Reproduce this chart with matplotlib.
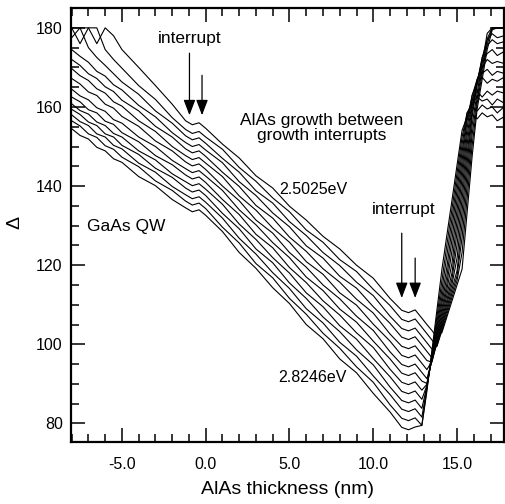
import matplotlib
matplotlib.use("Agg")
import matplotlib.pyplot as plt
from matplotlib.ticker import MultipleLocator, FormatStrFormatter

plt.rcParams['font.family'] = ['Liberation Sans', 'DejaVu Sans']
plt.rcParams['axes.unicode_minus'] = False

# AlAs thickness (nm) shared by all traces
thickness = [-8, -7.5, -7, -6.5, -6, -5.5, -5, -4, -3, -2, -1.2, -0.8, -0.4, 0,
             1, 2, 3, 4, 5, 6, 7, 8, 9, 10, 11, 11.7, 12.1, 12.5,
             12.9, 13.2, 13.5, 13.8, 14.1, 14.4, 14.7, 15.0, 15.3, 15.6, 15.9,
             16.2, 16.5, 16.8, 17.1, 17.4, 17.8]

# Delta traces, 2.5025 eV (top) down to 2.8246 eV (bottom)
d01 = [180, 180, 180, 176, 180, 178, 174.5, 170, 165.4, 160.7, 156.5, 155.5, 156.0, 154.6,
       150.6, 147.1, 142.6, 139.5, 134.9, 131.4, 127.3, 124.1, 120.0, 116.7, 111.6, 108.6, 108.0, 108.7,
       106.6, 105.0, 103.5, 101.8, 103.0, 107.0, 111.0, 115.0, 119.0, 133.3, 147.5, 159.5, 167.0, 174.5, 179.5, 180, 180]
d02 = [180, 176, 180, 180, 174.5, 172, 169.8, 165.4, 161.9, 157.3, 154.3, 153.3, 153.8, 152.4,
       149.3, 144.7, 141.2, 137.0, 133.5, 128.9, 125.8, 121.4, 118.4, 113.9, 109.8, 106.3, 105.7, 106.4,
       104.3, 102.7, 101.1, 99.5, 103.5, 107.7, 111.9, 116.1, 123.2, 136.8, 150.3, 160.9, 168.4, 175.9, 180, 180, 180]
d03 = [177.5, 180, 175, 172.5, 170.5, 168.4, 166.3, 163.2, 159.0, 155.9, 152.7, 151.7, 152.2, 150.8,
       147.0, 143.5, 138.8, 135.7, 131.0, 127.5, 123.2, 119.9, 115.7, 112.3, 107.1, 104.0, 103.4, 104.1,
       102.0, 100.4, 98.8, 99.6, 104.1, 108.5, 112.9, 117.3, 127.0, 140.0, 153.0, 162.2, 169.7, 177.2, 180, 180, 180]
d04 = [174.5, 172.8, 171.3, 169.0, 167.8, 165.6, 164.3, 160.4, 157.5, 153.5, 151.0, 150.0, 150.5, 149.1,
       145.9, 141.1, 137.6, 133.2, 129.7, 124.9, 121.8, 117.2, 114.2, 109.5, 105.3, 101.8, 101.2, 101.9,
       99.8, 98.2, 96.6, 100.0, 104.7, 109.3, 114.0, 118.6, 130.5, 143.0, 155.4, 163.6, 171.1, 178.6, 180, 180, 180]
d05 = [172.0, 170.5, 168.4, 167.2, 165.1, 163.9, 161.7, 159.0, 155.1, 152.4, 149.4, 148.4, 148.9, 147.5,
       143.5, 139.9, 135.1, 131.9, 127.1, 123.5, 119.1, 115.7, 111.4, 107.9, 102.6, 99.5, 98.9, 99.6,
       97.5, 95.9, 95.5, 100.4, 105.4, 110.3, 115.2, 121.8, 133.7, 145.7, 157.6, 165.5, 172.4, 177.0, 178.5, 177.5, 178.0]
d06 = [169.7, 167.9, 166.7, 164.6, 163.5, 161.3, 160.2, 156.5, 153.8, 150.0, 147.7, 146.7, 147.2, 145.8,
       142.4, 137.5, 133.9, 129.4, 125.8, 120.9, 117.7, 113.0, 109.9, 105.1, 100.8, 97.2, 96.6, 97.3,
       95.2, 93.6, 95.7, 100.9, 106.1, 111.3, 116.6, 125.2, 136.7, 148.2, 158.7, 166.2, 172.5, 175.5, 177.0, 176.0, 176.5]
d07 = [167.2, 165.8, 163.8, 162.9, 160.7, 159.7, 157.6, 155.1, 151.4, 148.9, 146.1, 145.1, 145.6, 144.2,
       140.0, 136.3, 131.4, 128.1, 123.2, 119.5, 115.0, 111.5, 107.1, 103.5, 98.1, 94.9, 94.3, 95.0,
       92.9, 91.3, 95.8, 101.4, 107.0, 112.6, 118.1, 128.4, 139.4, 150.5, 160.1, 166.5, 171.5, 173.5, 174.5, 173.0, 174.0]
d08 = [164.5, 162.8, 161.8, 159.8, 158.9, 156.8, 155.9, 152.4, 150.0, 146.5, 144.4, 143.4, 143.9, 142.5,
       138.9, 134.0, 130.2, 125.7, 121.9, 117.0, 113.6, 108.9, 105.6, 100.8, 96.3, 92.7, 92.1, 92.8,
       90.7, 90.1, 96.1, 102.0, 108.0, 114.0, 120.6, 131.3, 142.0, 152.6, 161.4, 167.0, 170.0, 172.0, 171.0, 171.5, 171.0]
d09 = [162.5, 161.3, 159.3, 158.5, 156.4, 155.6, 153.5, 151.2, 147.7, 145.4, 142.8, 141.8, 142.3, 140.9,
       136.6, 132.8, 127.8, 124.4, 119.4, 115.6, 111.0, 107.4, 102.9, 99.2, 93.7, 90.4, 89.8, 90.5,
       88.4, 89.9, 96.3, 102.7, 109.1, 115.5, 123.7, 134.0, 144.3, 154.6, 162.8, 167.0, 168.5, 169.5, 168.0, 169.0, 168.5]
d10 = [160.8, 159.1, 158.2, 156.2, 155.3, 153.3, 152.4, 148.9, 146.6, 143.1, 141.1, 140.1, 140.6, 139.2,
       135.4, 130.4, 126.5, 121.9, 118.0, 113.0, 109.5, 104.7, 101.3, 96.4, 91.8, 88.1, 87.5, 88.2,
       86.1, 89.6, 96.6, 103.5, 110.5, 117.4, 126.6, 136.6, 146.5, 156.5, 163.0, 166.0, 167.5, 166.0, 167.0, 166.5, 167.5]
d11 = [159.4, 158.1, 156.2, 155.3, 153.2, 152.4, 150.3, 148.0, 144.5, 142.2, 139.5, 138.5, 139.0, 137.6,
       133.1, 129.2, 124.1, 120.6, 115.5, 111.6, 106.9, 103.2, 98.6, 94.8, 89.2, 85.8, 85.2, 85.9,
       83.8, 89.4, 97.0, 104.5, 112.0, 119.7, 129.4, 139.0, 148.6, 157.5, 162.0, 164.0, 162.5, 164.0, 163.0, 164.0, 163.5]
d12 = [158.0, 156.3, 155.3, 153.2, 152.4, 150.3, 149.4, 145.8, 143.5, 139.9, 137.8, 136.8, 137.3, 135.9,
       131.9, 126.8, 122.8, 118.1, 114.1, 109.0, 105.4, 100.5, 97.0, 92.0, 87.3, 83.6, 83.0, 83.7,
       81.6, 89.1, 97.3, 105.6, 113.9, 122.6, 131.9, 141.2, 150.5, 158.5, 161.0, 162.5, 161.5, 162.0, 160.5, 162.0, 161.0]
d13 = [156.5, 155.2, 153.2, 152.3, 150.2, 149.3, 147.3, 144.9, 141.3, 138.9, 136.2, 135.2, 135.7, 134.3,
       129.6, 125.6, 120.4, 116.8, 111.6, 107.6, 102.8, 99.0, 94.3, 90.4, 84.7, 81.3, 80.7, 81.4,
       79.5, 88.7, 97.8, 107.0, 116.2, 125.3, 134.3, 143.3, 152.4, 158.5, 160.0, 159.0, 160.5, 159.5, 160.0, 158.5, 160.0]
d14 = [154.5, 152.8, 151.9, 149.8, 148.9, 146.9, 146.0, 142.4, 140.1, 136.6, 134.5, 133.5, 134.0, 132.6,
       128.5, 123.2, 119.2, 114.3, 110.3, 105.0, 101.4, 96.3, 92.8, 87.6, 82.9, 79.0, 78.4, 79.1,
       79.5, 88.1, 98.4, 108.7, 119.0, 127.8, 136.5, 145.3, 154.1, 157.5, 158.0, 157.0, 158.5, 157.5, 158.0, 156.5, 157.5]

traces = [d01, d02, d03, d04, d05, d06, d07, d08, d09, d10, d11, d12, d13, d14]

fig = plt.figure(figsize=(5.05, 5.04), dpi=100)
ax = fig.add_axes([0.1406, 0.123, 0.858, 0.861])

for d in traces:
  ax.plot(thickness, d, color='black', lw=0.8)

ax.set_xlim(-8.04, 17.82)
ax.set_ylim(75.3, 185.0)
ax.xaxis.set_major_locator(MultipleLocator(5))
ax.xaxis.set_minor_locator(MultipleLocator(1))
ax.xaxis.set_major_formatter(FormatStrFormatter('%.1f'))
ax.yaxis.set_major_locator(MultipleLocator(20))
ax.yaxis.set_minor_locator(MultipleLocator(5))
ax.tick_params(which='both', direction='in', top=True, right=True, labelsize=11.5, width=1.1)
ax.tick_params(which='major', length=10)
ax.tick_params(which='minor', length=5.5)
ax.tick_params(axis='x', which='major', pad=11)
ax.tick_params(axis='y', which='major', pad=6)
for s in ax.spines.values():
  s.set_linewidth(1.6)

ax.set_xlabel('AlAs thickness (nm)', fontsize=14, labelpad=6)
ax.set_ylabel('\u0394', fontsize=14)
ax.yaxis.set_label_coords(-0.111, 0.507)

txt = dict(ha='center', va='center', fontsize=12.5)
ax.text(-0.97, 177.4, 'interrupt', **txt)
ax.text(11.84, 134.0, 'interrupt', **txt)
ax.text(6.91, 154.6, 'AlAs growth between\ngrowth interrupts', linespacing=1.0, **txt)
ax.text(-4.76, 129.9, 'GaAs QW', **txt)
ax.text(6.44, 139.1, '2.5025eV', ha='center', va='center', fontsize=11.5)
ax.text(6.38, 91.6, '2.8246eV', ha='center', va='center', fontsize=11.5)

arrow = dict(arrowstyle='-|>,head_length=0.94,head_width=0.36', color='black', lw=0.9,
             shrinkA=0, shrinkB=0)
for x, y0, y1 in [(-0.97, 173.6, 157.9), (-0.22, 168.0, 157.9),
                  (11.7, 128.1, 111.7), (12.5, 121.8, 111.7)]:
  ax.annotate('', xy=(x, y1), xytext=(x, y0), arrowprops=arrow)

plt.savefig('out.png', dpi=100)
